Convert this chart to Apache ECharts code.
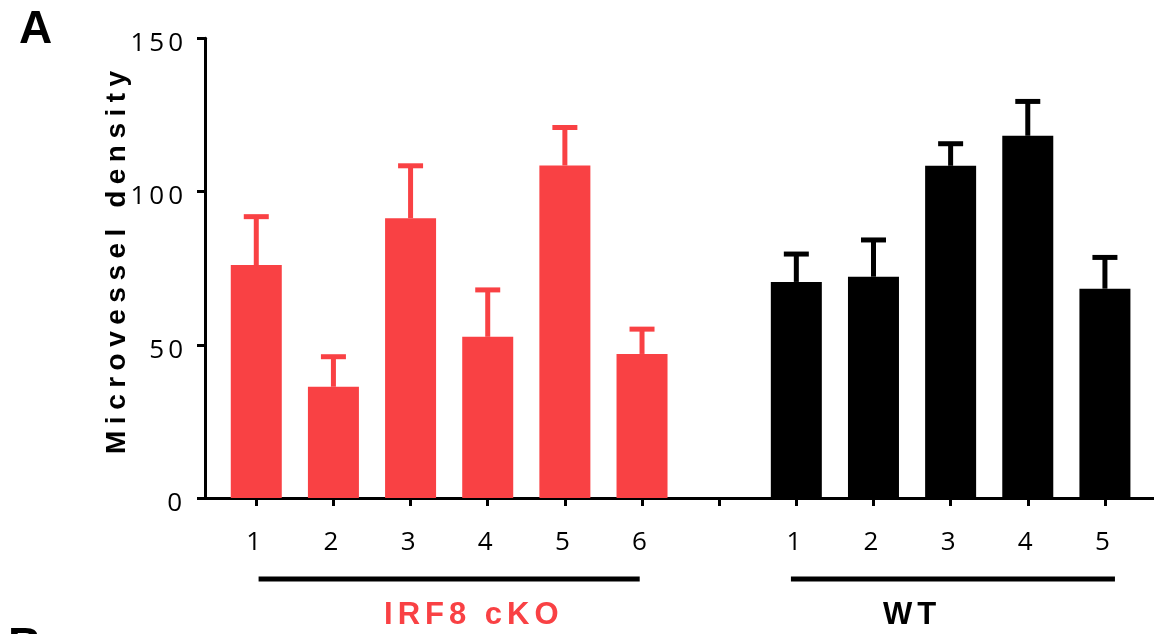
<!DOCTYPE html>
<html>
<head>
<meta charset="utf-8">
<script src="https://cdn.jsdelivr.net/npm/echarts@6/dist/echarts.min.js"></script>
<style>
html,body{margin:0;padding:0;background:#fff;}
#chart{width:1154px;height:634px;}
</style>
</head>
<body>
<div id="chart"></div>
<script>
// ---- data ----
const categories = ['1', '2', '3', '4', '5', '6', '', '1', '2', '3', '4', '5'];
const cKOIndex = [0, 1, 2, 3, 4, 5];
const cKOMean = [76.0, 36.3, 91.3, 52.6, 108.5, 47.0];
const cKOErrTop = [91.8, 46.1, 108.4, 67.9, 120.9, 55.1];
const wtIndex = [7, 8, 9, 10, 11];
const wtMean = [70.5, 72.2, 108.4, 118.2, 68.3];
const wtErrTop = [79.6, 84.2, 115.6, 129.4, 78.5];
const yMin = 0, yMax = 150, yStep = 50;
const groupNames = ['IRF8 cKO', 'WT'];
const yTitle = 'Microvessel density';
const panelLetters = ['A', 'B'];

// ---- styling ----
const RED = '#F94144';
const BLACK = '#000000';
const groupColors = [RED, BLACK];
const groupLineSpan = [[0.03, 4.97], [6.93, 11.13]];
const groupLabelAt = [2.82, 8.5];

// letter spacing for spaced-out texts (drawn by canvas)
const spacing = {'Microvessel density': 6.5, 'IRF8 cKO': 5, 'WT': 5, '150': 4, '100': 4, '50': 4};
(function () {
  const proto = CanvasRenderingContext2D.prototype;
  const orig = proto.fillText;
  proto.fillText = function (t, x, y, w) {
    const s = spacing[t];
    if (s && ('letterSpacing' in this)) {
      const prev = this.letterSpacing;
      this.letterSpacing = s + 'px';
      const r = w === undefined ? orig.call(this, t, x, y) : orig.call(this, t, x, y, w);
      this.letterSpacing = prev;
      return r;
    }
    return w === undefined ? orig.call(this, t, x, y) : orig.call(this, t, x, y, w);
  };
})();

function fill(indexArr, vals) {
  const a = categories.map(() => '-');
  indexArr.forEach((c, i) => { a[c] = vals[i]; });
  return a;
}

function errItem(params, api) {
  const base = api.coord([api.value(0), api.value(1)]);
  const top = api.coord([api.value(0), api.value(2)]);
  const color = api.visual('color');
  return {
    type: 'group',
    children: [
      {type: 'rect', shape: {x: base[0] - 2.5, y: top[1], width: 5, height: base[1] - top[1]}, style: {fill: color}},
      {type: 'rect', shape: {x: base[0] - 12.5, y: top[1] - 2.5, width: 25, height: 5}, style: {fill: color}}
    ]
  };
}

const chart = echarts.init(document.getElementById('chart'), null, {renderer: 'canvas'});
const axisFont = '"Open Sans", sans-serif';
const boldFont = '"Liberation Sans", Arial, sans-serif';

chart.setOption({
  animation: false,
  backgroundColor: '#ffffff',
  grid: [
    {left: 205, right: 0, top: 38.3, bottom: 136},
    {left: 217.7, right: 10.5, top: 38.3, bottom: 136}
  ],
  xAxis: [
    {type: 'value', gridIndex: 0, min: 0, max: 1,
     axisLine: {show: true, lineStyle: {color: BLACK, width: 3}},
     axisTick: {show: false}, axisLabel: {show: false}, splitLine: {show: false}},
    {type: 'category', gridIndex: 1, data: categories,
     axisLine: {show: false},
     axisTick: {show: true, alignWithLabel: true, interval: 0, length: 8, lineStyle: {color: BLACK, width: 3}},
     axisLabel: {interval: 0, margin: 32, color: BLACK, fontSize: 26, lineHeight: 26, fontFamily: axisFont},
     splitLine: {show: false}}
  ],
  yAxis: [
    {type: 'value', gridIndex: 0, min: yMin, max: yMax, interval: yStep,
     axisLine: {show: true, lineStyle: {color: BLACK, width: 3}},
     axisTick: {show: true, length: 8, lineStyle: {color: BLACK, width: 3}},
     axisLabel: {margin: 18, color: BLACK, fontSize: 26, fontFamily: axisFont, verticalAlign: 'top', lineHeight: 11},
     splitLine: {show: false},
     name: yTitle, nameLocation: 'middle', nameRotate: 90, nameGap: 72,
     nameTextStyle: {color: BLACK, fontSize: 28, fontWeight: 'bold', fontFamily: boldFont, padding: [0, 0, 0, 18]}},
    {type: 'value', gridIndex: 1, min: yMin, max: yMax, interval: yStep, show: false}
  ],
  series: [
    {name: groupNames[0], type: 'bar', xAxisIndex: 1, yAxisIndex: 1, barWidth: 51, barGap: '-100%',
     itemStyle: {color: RED}, data: fill(cKOIndex, cKOMean)},
    {name: groupNames[1], type: 'bar', xAxisIndex: 1, yAxisIndex: 1, barWidth: 51, barGap: '-100%',
     itemStyle: {color: BLACK}, data: fill(wtIndex, wtMean)},
    {type: 'custom', xAxisIndex: 1, yAxisIndex: 1, itemStyle: {color: RED}, renderItem: errItem,
     data: cKOIndex.map((c, i) => [c, cKOMean[i], cKOErrTop[i]]), z: 3},
    {type: 'custom', xAxisIndex: 1, yAxisIndex: 1, itemStyle: {color: BLACK}, renderItem: errItem,
     data: wtIndex.map((c, i) => [c, wtMean[i], wtErrTop[i]]), z: 3}
  ]
});

// group brackets and labels placed through the category axis scale
const p0 = chart.convertToPixel({xAxisIndex: 1}, 0);
const p1 = chart.convertToPixel({xAxisIndex: 1}, 1);
const px = (i) => p0 + i * (p1 - p0);
const graphics = [];
groupNames.forEach((g, k) => {
  const a = px(groupLineSpan[k][0]), b = px(groupLineSpan[k][1]);
  graphics.push({type: 'rect', shape: {x: a, y: 576.5, width: b - a, height: 5}, style: {fill: BLACK}, silent: true});
  graphics.push({type: 'text', x: px(groupLabelAt[k]), y: 615.5,
    style: {text: g, fill: groupColors[k], font: 'bold 31px ' + boldFont, textAlign: 'center', textVerticalAlign: 'middle'}});
});
graphics.push({type: 'text', x: 19, y: 30.5,
  style: {text: panelLetters[0], fill: BLACK, font: 'bold 46px ' + boldFont, textAlign: 'left', textVerticalAlign: 'middle'}});
graphics.push({type: 'text', x: 8, y: 647.5,
  style: {text: panelLetters[1], fill: BLACK, font: 'bold 46px ' + boldFont, textAlign: 'left', textVerticalAlign: 'middle'}});
chart.setOption({graphic: graphics});
</script>
</body>
</html>
